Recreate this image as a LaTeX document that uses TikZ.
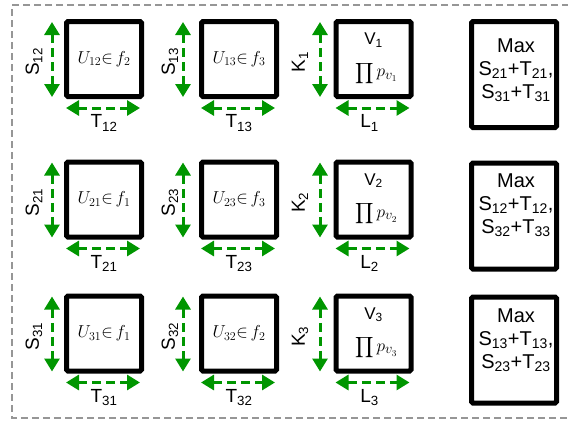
\documentclass[tikz,border=0pt]{standalone}
\usepackage{amsmath}
\usepackage{fontspec}
\setmainfont{Liberation Sans}
\usetikzlibrary{arrows.meta,calc}
\definecolor{agreen}{RGB}{0,150,0}
\definecolor{bgray}{RGB}{150,150,150}
\tikzset{
  box/.style={draw, line width=5pt, rounded corners=1.5pt, minimum width=75pt, minimum height=75pt, inner sep=0pt, outer sep=0pt, align=center, font=\fontsize{17}{20}\selectfont},
  maxbox/.style={draw, line width=5pt, rounded corners=1.5pt, minimum width=85pt, minimum height=106pt, inner sep=0pt},
  maxtext/.style={align=center, inner sep=0pt, font=\fontsize{20}{23}\selectfont},
  garrow/.style={agreen, line width=3pt, dash pattern=on 9pt off 5pt, {Triangle[length=13pt,width=15pt]}-{Triangle[length=13pt,width=15pt]}},
  lab/.style={inner sep=0pt, font=\fontsize{19}{21}\selectfont},
  frame/.style={bgray, line width=2pt, dash pattern=on 7pt off 4pt}
}
% #1 name, #2 cx, #3 cy, #4 content, #5 vertical label, #6 horizontal label,
% #7 vertical arrow dx, #8 vertical label dx, #9 horizontal label dx
\newcommand\cellbox[9]{%
  \node[box] (#1) at (#2,#3) {#4};
  \path (#1.center) ++(#7,-37) coordinate (#1vt);
  \path (#1.center) ++(#7,38) coordinate (#1vb);
  \path (#1.center) ++(-38,49) coordinate (#1hl);
  \path (#1.center) ++(36,49) coordinate (#1hr);
  \draw[garrow] (#1vt) -- (#1vb);
  \draw[garrow] (#1hl) -- (#1hr);
  \node[lab, rotate=90] (#1vlab) at ($(#1.center)+(#8,3)$) {#5};
  \node[lab] (#1hlab) at ($(#1.center)+(#9,64)$) {#6};
}
\newcommand\ue[2]{$U_{#1}{\in}\, f_{#2}$}
\newcommand\vp[1]{\fontsize{17}{20}\selectfont V\textsubscript{#1}\\[12pt]\hspace*{6pt}{\fontsize{15.5}{18}\selectfont$\displaystyle\prod$}\,{\fontsize{19}{20}\selectfont$p_{v_{#1}}$}}
\begin{document}
\begin{tikzpicture}[x=1pt,y=-1pt]
\useasboundingbox (0,0) rectangle (568,421);
\draw[frame] (580,5) -- (12,5) -- (12,418) -- (580,418);
% row 1
\cellbox{a}{104}{59}{\ue{12}{2}}{S\textsubscript{12}}{T\textsubscript{12}}{-52}{-70}{0}
\cellbox{b}{239}{59}{\ue{13}{3}}{S\textsubscript{13}}{T\textsubscript{13}}{-56}{-69}{0}
\cellbox{c}{373.5}{59}{\vp{1}}{K\textsubscript{1}}{L\textsubscript{1}}{-53.5}{-73.5}{-4}
% row 2
\cellbox{d}{104}{199.5}{\ue{21}{1}}{S\textsubscript{21}}{T\textsubscript{21}}{-52}{-70}{0}
\cellbox{e}{239}{199.5}{\ue{23}{3}}{S\textsubscript{23}}{T\textsubscript{23}}{-56}{-69}{0}
\cellbox{f}{373.5}{199.5}{\vp{2}}{K\textsubscript{2}}{L\textsubscript{2}}{-53.5}{-73.5}{-4}
% row 3
\cellbox{g}{104}{333.5}{\ue{31}{1}}{S\textsubscript{31}}{T\textsubscript{31}}{-52}{-70}{0}
\cellbox{h}{239}{333.5}{\ue{32}{2}}{S\textsubscript{32}}{T\textsubscript{32}}{-56}{-69}{0}
\cellbox{i}{373.5}{333.5}{\vp{3}}{K\textsubscript{3}}{L\textsubscript{3}}{-53.5}{-73.5}{-4}
% max boxes
\node[maxbox] (m1) at (514,74.5) {};
\node[maxtext] (m1t) at (516,70) {Max\\S\textsubscript{21}+T\textsubscript{21},\\S\textsubscript{31}+T\textsubscript{31}};
\node[maxbox] (m2) at (514,216) {};
\node[maxtext] (m2t) at (516,205) {Max\\S\textsubscript{12}+T\textsubscript{12},\\S\textsubscript{32}+T\textsubscript{33}};
\node[maxbox] (m3) at (514,350) {};
\node[maxtext] (m3t) at (516,340) {Max\\S\textsubscript{13}+T\textsubscript{13},\\S\textsubscript{23}+T\textsubscript{23}};
\end{tikzpicture}
\end{document}
